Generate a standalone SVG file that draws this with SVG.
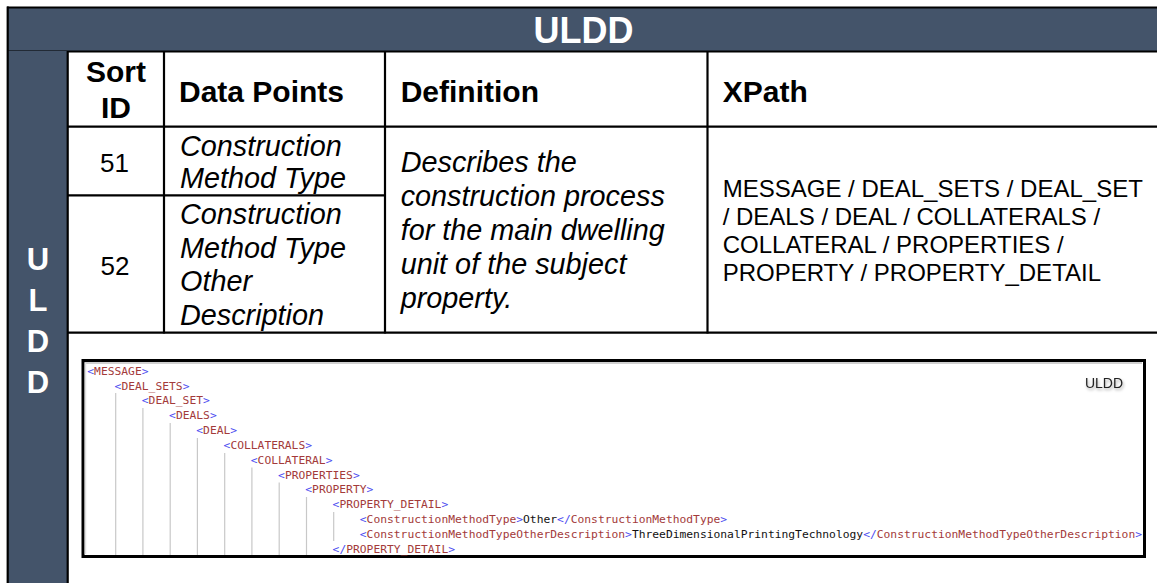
<svg xmlns="http://www.w3.org/2000/svg" width="1157" height="583" viewBox="0 0 1157 583">
<defs>
<style>
.band{fill:#44546A}
.ln{stroke:#000;stroke-width:2.2;fill:none}
.hd{font-family:"Liberation Sans",Arial,sans-serif;font-weight:bold;font-size:30px;fill:#000}
.it{font-family:"Liberation Sans",Arial,sans-serif;font-style:italic;font-size:28.8px;fill:#000}
.num{font-family:"Liberation Sans",Arial,sans-serif;font-size:26px;fill:#000}
.xp{font-family:"Liberation Sans",Arial,sans-serif;font-size:24px;fill:#000}
.wt{font-family:"Liberation Sans",Arial,sans-serif;font-weight:bold;fill:#fff}
.code{font-family:"DejaVu Sans Mono","Liberation Mono",monospace;font-size:11.3px;fill:#111}
.b{fill:#4b4bf0}
.t{fill:#a33a3a}
.guide{stroke:#c8c8c8;stroke-width:1.2}
</style>
<filter id="sh" x="-20%" y="-50%" width="140%" height="200%">
<feDropShadow dx="1" dy="2" stdDeviation="1.5" flood-color="#000" flood-opacity="0.35"/>
</filter>
</defs>
<rect x="0" y="0" width="1157" height="583" fill="#fff"/>

<g id="title-band">
<rect class="band" x="8" y="8" width="1149" height="43.5"/>
<line class="ln" x1="7" y1="7.5" x2="1157" y2="7.5" stroke-width="2.5"/>
<line class="ln" x1="7" y1="51.5" x2="1157" y2="51.5" stroke-width="2.5"/>
<text class="wt" x="583.5" y="43.3" font-size="36" text-anchor="middle">ULDD</text>
</g>

<g id="side-band">
<rect class="band" x="8" y="51" width="59.5" height="532"/>
<line class="ln" x1="7.7" y1="6.5" x2="7.7" y2="583" stroke-width="2.5"/>
<line class="ln" x1="67.7" y1="51" x2="67.7" y2="583" stroke-width="2.2"/>
<text class="wt" x="38" y="270" font-size="31" text-anchor="middle">U</text>
<text class="wt" x="38" y="311" font-size="31" text-anchor="middle">L</text>
<text class="wt" x="38" y="352" font-size="31" text-anchor="middle">D</text>
<text class="wt" x="38" y="393" font-size="31" text-anchor="middle">D</text>
</g>

<g id="table-grid">
<line class="ln" x1="67" y1="126.7" x2="1157" y2="126.7"/>
<line class="ln" x1="67" y1="195.3" x2="385" y2="195.3"/>
<line class="ln" x1="67" y1="332.7" x2="1157" y2="332.7"/>
<line class="ln" x1="164" y1="51" x2="164" y2="333.5"/>
<line class="ln" x1="385" y1="51" x2="385" y2="333.5"/>
<line class="ln" x1="707.5" y1="51" x2="707.5" y2="333.5"/>
</g>

<g id="header-row">
<text class="hd" x="116" y="81.7" text-anchor="middle">Sort</text>
<text class="hd" x="116" y="118" text-anchor="middle">ID</text>
<text class="hd" x="179" y="101.7">Data Points</text>
<text class="hd" x="400.7" y="101.7">Definition</text>
<text class="hd" x="722.7" y="101.7">XPath</text>
</g>

<g id="row-51">
<text class="num" x="114.5" y="171.7" text-anchor="middle">51</text>
<text class="it" x="180" y="156">Construction</text>
<text class="it" x="180" y="188.3">Method Type</text>
</g>

<g id="row-52">
<text class="num" x="115" y="275" text-anchor="middle">52</text>
<text class="it" x="180" y="224">Construction</text>
<text class="it" x="180" y="257.5">Method Type</text>
<text class="it" x="180" y="291">Other</text>
<text class="it" x="180" y="324.5">Description</text>
</g>

<g id="definition">
<text class="it" x="400.7" y="172">Describes the</text>
<text class="it" x="400.7" y="206">construction process</text>
<text class="it" x="400.7" y="240">for the main dwelling</text>
<text class="it" x="400.7" y="274">unit of the subject</text>
<text class="it" x="400.7" y="308">property.</text>
</g>

<g id="xpath">
<text class="xp" x="722.7" y="197">MESSAGE / DEAL_SETS / DEAL_SET</text>
<text class="xp" x="722.7" y="225">/ DEALS / DEAL / COLLATERALS /</text>
<text class="xp" x="722.7" y="253">COLLATERAL / PROPERTIES /</text>
<text class="xp" x="722.7" y="281">PROPERTY / PROPERTY_DETAIL</text>
</g>

<g id="xml-sample">
<rect x="83" y="360.5" width="1061.5" height="196" fill="#fff" stroke="#000" stroke-width="3"/>
<line x1="85" y1="363" x2="1142" y2="363" stroke="#d0d0d0" stroke-width="2"/>
<line x1="85.5" y1="363" x2="85.5" y2="554" stroke="#e0e0e0" stroke-width="1.5"/>
<text x="1104" y="387.5" font-family="'Liberation Sans',Arial,sans-serif" font-size="14" fill="#222" text-anchor="middle" filter="url(#sh)">ULDD</text>
<g class="guides">
<line class="guide" x1="115.7" y1="393" x2="115.7" y2="555"/>
<line class="guide" x1="142.9" y1="408" x2="142.9" y2="555"/>
<line class="guide" x1="170.2" y1="423" x2="170.2" y2="555"/>
<line class="guide" x1="197.4" y1="438" x2="197.4" y2="555"/>
<line class="guide" x1="224.7" y1="453" x2="224.7" y2="555"/>
<line class="guide" x1="251.9" y1="467.5" x2="251.9" y2="555"/>
<line class="guide" x1="279.2" y1="482.5" x2="279.2" y2="555"/>
<line class="guide" x1="306.5" y1="497" x2="306.5" y2="555"/>
<line class="guide" x1="333.7" y1="512" x2="333.7" y2="541"/>
</g>
<text class="code" x="87.3" y="374.7"><tspan class="b">&lt;</tspan><tspan class="t">MESSAGE</tspan><tspan class="b">&gt;</tspan></text>
<text class="code" x="114.6" y="389.5"><tspan class="b">&lt;</tspan><tspan class="t">DEAL_SETS</tspan><tspan class="b">&gt;</tspan></text>
<text class="code" x="141.8" y="404.4"><tspan class="b">&lt;</tspan><tspan class="t">DEAL_SET</tspan><tspan class="b">&gt;</tspan></text>
<text class="code" x="169.1" y="419.2"><tspan class="b">&lt;</tspan><tspan class="t">DEALS</tspan><tspan class="b">&gt;</tspan></text>
<text class="code" x="196.3" y="434"><tspan class="b">&lt;</tspan><tspan class="t">DEAL</tspan><tspan class="b">&gt;</tspan></text>
<text class="code" x="223.6" y="448.9"><tspan class="b">&lt;</tspan><tspan class="t">COLLATERALS</tspan><tspan class="b">&gt;</tspan></text>
<text class="code" x="250.8" y="463.7"><tspan class="b">&lt;</tspan><tspan class="t">COLLATERAL</tspan><tspan class="b">&gt;</tspan></text>
<text class="code" x="278.1" y="478.5"><tspan class="b">&lt;</tspan><tspan class="t">PROPERTIES</tspan><tspan class="b">&gt;</tspan></text>
<text class="code" x="305.3" y="493.3"><tspan class="b">&lt;</tspan><tspan class="t">PROPERTY</tspan><tspan class="b">&gt;</tspan></text>
<text class="code" x="332.6" y="508.2"><tspan class="b">&lt;</tspan><tspan class="t">PROPERTY_DETAIL</tspan><tspan class="b">&gt;</tspan></text>
<text class="code" x="359.8" y="523"><tspan class="b">&lt;</tspan><tspan class="t">ConstructionMethodType</tspan><tspan class="b">&gt;</tspan>Other<tspan class="b">&lt;/</tspan><tspan class="t">ConstructionMethodType</tspan><tspan class="b">&gt;</tspan></text>
<text class="code" x="359.8" y="537.8"><tspan class="b">&lt;</tspan><tspan class="t">ConstructionMethodTypeOtherDescription</tspan><tspan class="b">&gt;</tspan>ThreeDimensionalPrintingTechnology<tspan class="b">&lt;/</tspan><tspan class="t">ConstructionMethodTypeOtherDescription</tspan><tspan class="b">&gt;</tspan></text>
<text class="code" x="332.6" y="552.6"><tspan class="b">&lt;/</tspan><tspan class="t">PROPERTY_DETAIL</tspan><tspan class="b">&gt;</tspan></text>
</g>
</svg>
